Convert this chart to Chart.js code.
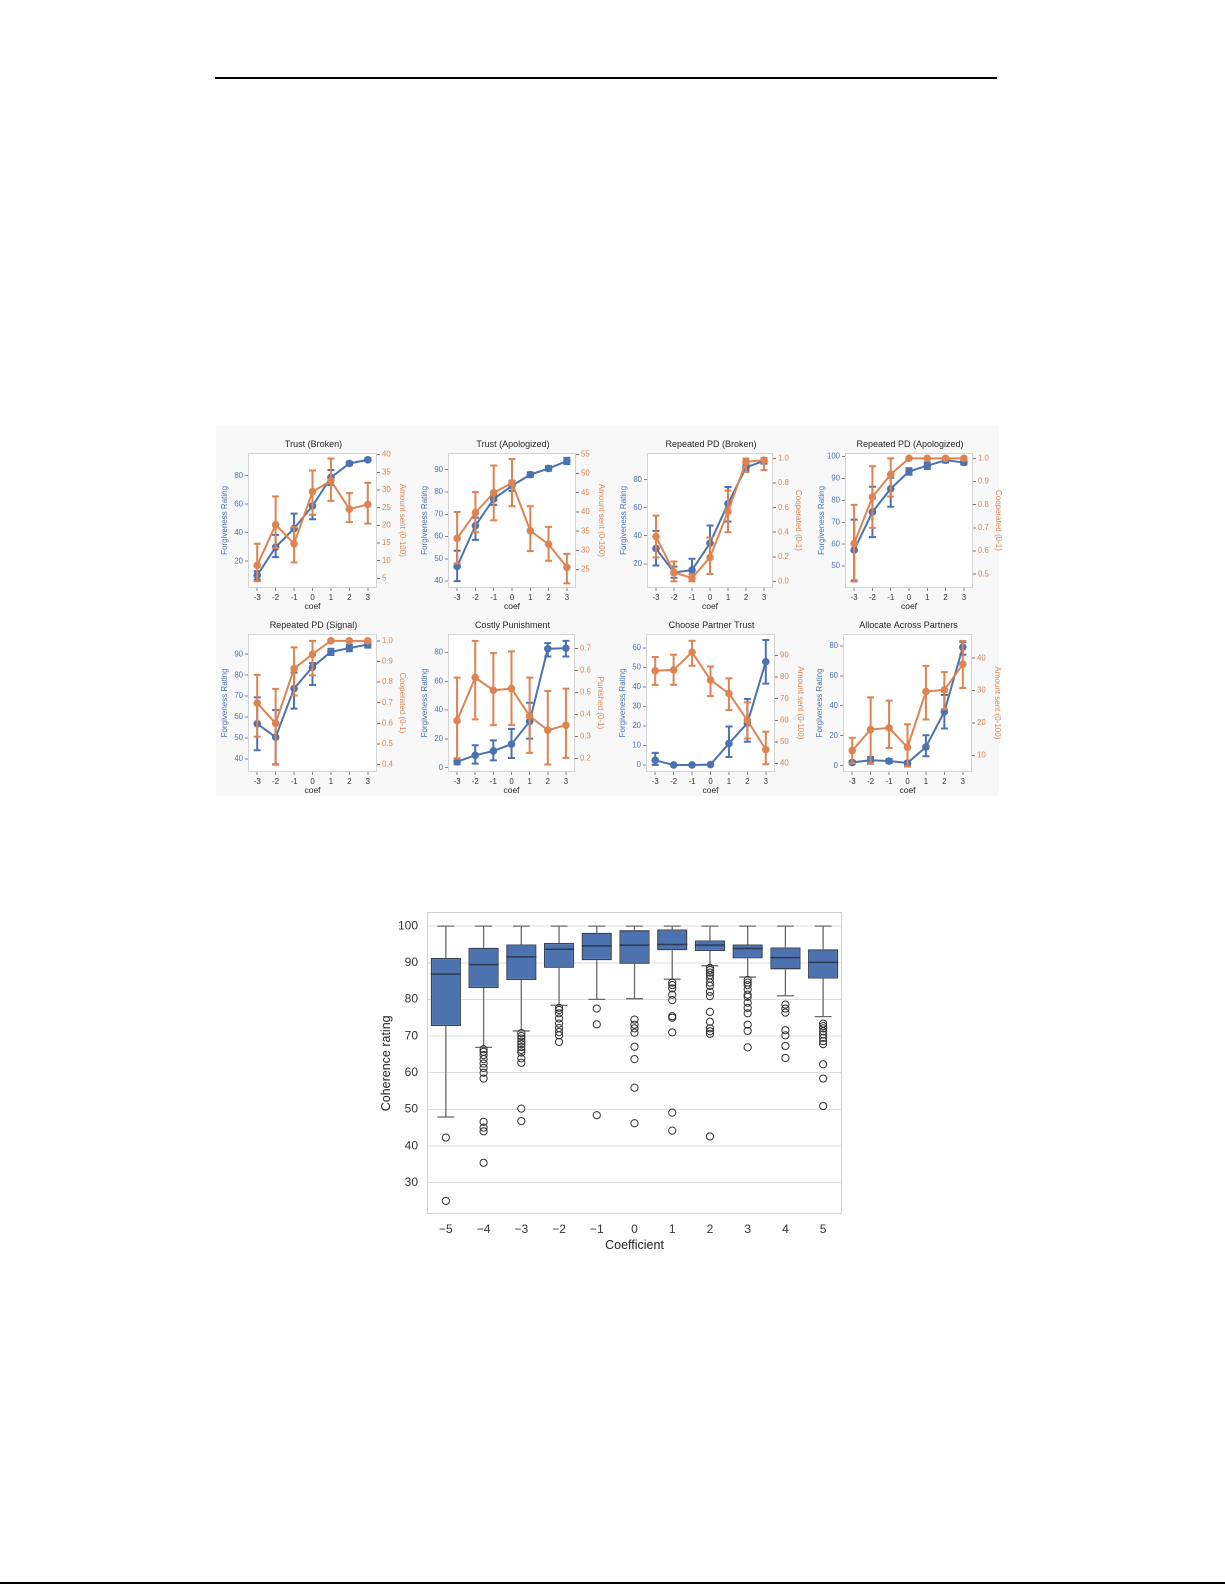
<!DOCTYPE html>
<html><head><meta charset="utf-8">
<script src="https://cdn.jsdelivr.net/npm/chart.js@4.4.1/dist/chart.umd.min.js"></script>
<style>
html,body{margin:0;padding:0;background:#fff;}
body{width:1225px;height:1585px;position:relative;overflow:hidden;font-family:'Liberation Sans',Arial,sans-serif;}
.abs{position:absolute;}
canvas{position:absolute;}
</style></head><body>
<div class="abs" style="left:215px;top:77px;width:782px;height:1.5px;background:#000"></div>
<div class="abs" style="left:0;top:1582px;width:1225px;height:2px;background:#000"></div>
<div class="abs" style="left:216px;top:426px;width:783px;height:370px;background:#f8f8f8"></div>
<script>
// ---------------- DATA ----------------
const coefLabels = ['-3','-2','-1','0','1','2','3'];
const panelTitles = ['Trust (Broken)','Trust (Apologized)','Repeated PD (Broken)','Repeated PD (Apologized)','Repeated PD (Signal)','Costly Punishment','Choose Partner Trust','Allocate Across Partners'];
const leftAxisTitle = 'Forgiveness Rating';
const rightAxisTitles = ['Amount sent (0-100)','Amount sent (0-100)','Cooperated (0-1)','Cooperated (0-1)','Cooperated (0-1)','Punished (0-1)','Amount sent (0-100)','Amount sent (0-100)'];

const forgivenessMean = [
  [10, 29.8, 42.9, 58.8, 78.8, 88.6, 91.2],
  [46.6, 64.9, 76.9, 82.8, 87.8, 90.6, 93.9],
  [30.9, 13.8, 15.5, 34.7, 62.9, 88.8, 93.5],
  [57.3, 74.7, 85.3, 93.2, 95.8, 98.3, 97.3],
  [56.8, 50.4, 73.6, 83.8, 91.1, 92.9, 94.6],
  [4.2, 8.6, 11.6, 16.3, 32.1, 82.6, 83.0],
  [2.4, 0, 0, 0.2, 11, 21.4, 52.9],
  [2.2, 3.6, 3.1, 1.8, 12.5, 36, 79.1]
];
const forgivenessLow = [
  [7, 22.8, 32.4, 49.4, 73.5, 87.5, 90.2],
  [40, 58.5, 74.2, 80.5, 86.8, 89.6, 92.5],
  [18.8, 10, 9.8, 24, 50.2, 86.5, 91.5],
  [43.4, 63.2, 77.1, 91.7, 94.3, 97.3, 96.3],
  [44.2, 37.5, 64, 75.3, 89.6, 91.4, 93.1],
  [2.3, 2.8, 5.1, 6.7, 20.2, 77.2, 77.2],
  [0, 0, 0, 0, 4.1, 11.9, 41.7],
  [1.2, 1.3, 1.8, 0.8, 6.3, 24.8, 74]
];
const forgivenessHigh = [
  [13, 38.4, 53.4, 68.2, 84, 89.7, 92.2],
  [53.6, 68.5, 78.7, 85, 88.8, 91.6, 95.3],
  [43.5, 18, 23.6, 47.3, 74.8, 91, 95.5],
  [71.2, 86.2, 90.3, 94.7, 97.3, 99.3, 98.3],
  [69.4, 63.3, 81.2, 85.8, 92.6, 94.4, 96.1],
  [6.5, 15.6, 19, 27, 45.1, 86.5, 88.1],
  [6.2, 0, 0, 0.4, 19.7, 33.8, 64],
  [3.2, 5.8, 4.5, 2.8, 20.3, 47.2, 82.5]
];
const behaviorMean = [
  [8.7, 20.2, 14.8, 29.5, 32.6, 24.6, 25.9],
  [33.1, 39.8, 45.0, 47.6, 35.1, 31.6, 25.6],
  [0.365, 0.073, 0.027, 0.195, 0.568, 0.973, 0.986],
  [0.632, 0.833, 0.931, 1, 1, 1, 1],
  [0.698, 0.6, 0.865, 0.935, 1, 1, 1],
  [0.372, 0.568, 0.51, 0.518, 0.393, 0.329, 0.352],
  [82.9, 83.3, 91.5, 78.6, 72.4, 60, 46.5],
  [11.5, 18, 18.5, 12.5, 29.7, 30.2, 38.1]
];
const behaviorLow = [
  [4.2, 13.6, 9.5, 23, 26.9, 20.9, 20.5],
  [26.6, 34.7, 37.8, 41.5, 29.8, 27.3, 21.4],
  [0.195, 0.0, 0.0, 0.06, 0.4, 0.89, 0.905],
  [0.468, 0.7, 0.835, 1, 1, 1, 1],
  [0.535, 0.4, 0.735, 0.833, 1, 1, 1],
  [0.2, 0.378, 0.352, 0.352, 0.226, 0.173, 0.203],
  [76.4, 76.4, 85.2, 71.2, 64.7, 51.6, 39.7],
  [7.6, 7.6, 12.3, 6.6, 21.1, 24.3, 30.8]
];
const behaviorHigh = [
  [14.8, 28.2, 19.5, 35.5, 38.9, 29.1, 32],
  [40, 45.2, 52.1, 53.8, 41.5, 36.1, 29.1],
  [0.535, 0.162, 0.06, 0.357, 0.738, 1.0, 1.0],
  [0.799, 0.966, 1.0, 1, 1, 1, 1],
  [0.835, 0.767, 0.968, 1.0, 1, 1, 1],
  [0.568, 0.735, 0.679, 0.687, 0.568, 0.507, 0.518],
  [89.3, 90.3, 96.8, 84.9, 79.4, 68.3, 54.7],
  [15.4, 27.9, 26.9, 19.6, 37.6, 35.7, 45.3]
];
const leftTicks = [[20,40,60,80],[40,50,60,70,80,90],[20,40,60,80],[50,60,70,80,90,100],[40,50,60,70,80,90],[0,20,40,60,80],[0,10,20,30,40,50,60],[0,20,40,60,80]];
const rightTicks = [[5,10,15,20,25,30,35,40],[25,30,35,40,45,50,55],[0,0.2,0.4,0.6,0.8,1.0],[0.5,0.6,0.7,0.8,0.9,1.0],[0.4,0.5,0.6,0.7,0.8,0.9,1.0],[0.2,0.3,0.4,0.5,0.6,0.7],[40,50,60,70,80,90],[10,20,30,40]];
const rightDecimals = [0,0,1,1,1,1,0,0];
const leftRange = [[1.1,96.1],[36.9,97.6],[2.7,99.2],[40,101.7],[33.8,99.7],[-3,93],[-3.6,67.2],[-4.2,88]];
const rightRange = [[2.3,40.5],[20.2,55.4],[-0.054,1.046],[0.44,1.024],[0.364,1.034],[0.139,0.767],[36.1,100],[4.9,47.5]];

const boxCategories = ['\u22125','\u22124','\u22123','\u22122','\u22121','0','1','2','3','4','5'];
const boxQ1 = [72.7, 83.1, 85.3, 88.6, 90.7, 89.7, 93.4, 93.2, 91.2, 88.2, 85.7];
const boxMedian = [86.9, 89.5, 91.6, 93.7, 94.6, 94.8, 95.0, 94.8, 93.9, 91.4, 90.1];
const boxQ3 = [91.35, 94.1, 95.0, 95.4, 98.2, 98.9, 99.1, 96.1, 95.0, 94.2, 93.7];
const whiskerLow = [47.9, 66.9, 71.4, 78.4, 80.0, 80.2, 85.5, 89.2, 86.1, 81.0, 75.3];
const whiskerHigh = [100, 100, 100, 100, 100, 100, 100, 100, 100, 100, 100];
const outliers = [
  [42.3, 25.0],
  [66.4, 65.7, 64.8, 63.7, 62.5, 61.3, 60.0, 58.4, 46.6, 45.0, 44.0, 35.4],
  [70.8, 70.0, 69.3, 68.5, 67.8, 67.0, 66.2, 65.5, 63.9, 62.7, 50.2, 46.8],
  [77.7, 77.1, 76.2, 74.8, 73.4, 72.2, 71.1, 70.2, 68.4],
  [77.5, 73.2, 48.4],
  [74.5, 73.1, 72.1, 70.9, 67.1, 63.7, 55.9, 46.2],
  [84.6, 83.9, 83.0, 81.3, 79.8, 75.4, 75.0, 71.0, 49.1, 44.2],
  [88.6, 88.0, 87.3, 86.6, 85.7, 84.6, 83.7, 82.1, 80.9, 76.6, 73.9, 72.1, 71.3, 70.6, 42.6],
  [85.3, 84.6, 83.9, 82.7, 81.3, 80.7, 79.1, 77.7, 76.2, 73.1, 71.4, 66.9],
  [78.6, 77.5, 76.4, 71.6, 70.2, 67.3, 64.0],
  [73.4, 72.7, 72.1, 71.3, 70.4, 69.5, 68.6, 67.8, 62.3, 58.4, 50.9]
];
const boxTicks = [30,40,50,60,70,80,90,100];
const boxRange = [21.3, 103.8];

// ---------------- LAYOUT / STYLE ----------------
const panelBoxes = [
  [248,453,377,588],[448,453,576,588],[647,453,773,588],[845,453,973,588],
  [248,634,377,772],[448,634,575,772],[646,634,775,772],[843,634,972,772]
];
const BLUE = '#4c72b0', ORANGE = '#dd8452';
Chart.defaults.font.family = "'Liberation Sans', Arial, sans-serif";
Chart.defaults.animation = false;

const framePlugin = {
  id: 'frame',
  beforeDraw(chart) {
    const a = chart.chartArea, c = chart.ctx;
    c.save(); c.fillStyle = '#ffffff'; c.fillRect(a.left, a.top, a.right - a.left, a.bottom - a.top); c.restore();
  },
  beforeDatasetsDraw(chart) {
    const a = chart.chartArea, c = chart.ctx;
    c.save(); c.strokeStyle = chart.options.frameColor || '#d4d4d4'; c.lineWidth = 1;
    c.strokeRect(Math.round(a.left) + 0.5, Math.round(a.top) + 0.5, Math.round(a.right - a.left) - 1, Math.round(a.bottom - a.top) - 1);
    c.restore();
  }
};
const errorBarPlugin = {
  id: 'errbars',
  beforeDatasetDraw(chart, args) {
    const ds = chart.data.datasets[args.index];
    if (!ds.errLow) return;
    const ys = chart.scales[ds.yAxisID];
    const c = chart.ctx;
    c.save(); c.strokeStyle = ds.borderColor; c.lineWidth = 2; c.lineCap = 'butt';
    args.meta.data.forEach((pt, i) => {
      const lo = ds.errLow[i], hi = ds.errHigh[i];
      if (Math.abs(hi - lo) < 1e-9) return;
      const x = pt.x, y1 = ys.getPixelForValue(lo), y2 = ys.getPixelForValue(hi);
      c.beginPath();
      c.moveTo(x, y1); c.lineTo(x, y2);
      c.moveTo(x - 3.5, y1); c.lineTo(x + 3.5, y1);
      c.moveTo(x - 3.5, y2); c.lineTo(x + 3.5, y2);
      c.stroke();
    });
    c.restore();
  }
};

function makePanel(i) {
  const [L, T, R, B] = panelBoxes[i];
  const LW = 28, RW = 30, TH = 16.8, XH = 24;
  const cv = document.createElement('canvas');
  const w = Math.round(LW + (R - L) + RW), h = Math.round(TH + (B - T) + XH);
  cv.width = w; cv.height = h;
  cv.style.left = (L - LW) + 'px'; cv.style.top = Math.round(T - TH) + 'px';
  cv.style.width = w + 'px'; cv.style.height = h + 'px';
  document.body.appendChild(cv);
  const tickFont = {size: 7.8};
  new Chart(cv, {
    type: 'line',
    data: {
      labels: coefLabels,
      datasets: [
        {label: 'Forgiveness', data: forgivenessMean[i], errLow: forgivenessLow[i], errHigh: forgivenessHigh[i], yAxisID: 'yL',
         borderColor: BLUE, backgroundColor: BLUE, borderWidth: 2, pointRadius: 3.8, pointBorderWidth: 0, pointBackgroundColor: BLUE, tension: 0, order: 2},
        {label: 'Behavior', data: behaviorMean[i], errLow: behaviorLow[i], errHigh: behaviorHigh[i], yAxisID: 'yR',
         borderColor: ORANGE, backgroundColor: ORANGE, borderWidth: 2, pointRadius: 3.8, pointBorderWidth: 0, pointBackgroundColor: ORANGE, tension: 0, order: 1}
      ]
    },
    options: {
      responsive: false, devicePixelRatio: 2,
      layout: {padding: 0},
      plugins: {
        legend: {display: false}, tooltip: {enabled: false},
        title: {display: true, text: panelTitles[i], color: '#262626', font: {size: 9, weight: 'normal'}, padding: {top: 3, bottom: 3}}
      },
      scales: {
        x: {type: 'category', offset: true,
            grid: {display: true, drawOnChartArea: false, drawTicks: true, tickLength: 3, color: '#666', lineWidth: 0.8},
            border: {display: false},
            ticks: {color: '#333', font: tickFont, padding: 2, maxRotation: 0, autoSkip: false},
            title: {display: true, text: 'coef', color: '#262626', font: {size: 8.5}, padding: 0},
            afterFit(s) { s.height = XH; }},
        yL: {type: 'linear', position: 'left', min: leftRange[i][0], max: leftRange[i][1],
             afterBuildTicks(s) { s.ticks = leftTicks[i].map(v => ({value: v})); },
             grid: {display: true, drawOnChartArea: false, drawTicks: true, tickLength: 3, color: '#666', lineWidth: 0.8},
             border: {display: false},
             ticks: {color: BLUE, font: tickFont, padding: 2, callback: v => String(Math.round(v))},
             title: {display: true, text: leftAxisTitle, color: BLUE, font: {size: 8}, padding: 0},
             afterFit(s) { s.width = LW; }},
        yR: {type: 'linear', position: 'right', min: rightRange[i][0], max: rightRange[i][1],
             afterBuildTicks(s) { s.ticks = rightTicks[i].map(v => ({value: v})); },
             grid: {display: true, drawOnChartArea: false, drawTicks: true, tickLength: 3, color: '#555', lineWidth: 0.8},
             border: {display: false},
             ticks: {color: ORANGE, font: tickFont, padding: 2, callback: v => Number(v).toFixed(rightDecimals[i])},
             title: {display: true, text: rightAxisTitles[i], color: ORANGE, font: {size: 8}, padding: 0},
             afterFit(s) { s.width = RW; }}
      }
    },
    plugins: [framePlugin, errorBarPlugin]
  });
}
for (let i = 0; i < 8; i++) makePanel(i);

// ---------------- BOX PLOT ----------------
(function () {
  const L = 427, T = 912, R = 842, B = 1214;
  const LW = 48, TP = 16, RP = 8, XH = 38.5;
  const cv = document.createElement('canvas');
  const w = Math.round(LW + (R - L) + RP), h = Math.round(TP + (B - T) + XH);
  cv.width = w; cv.height = h;
  cv.style.left = (L - LW) + 'px'; cv.style.top = (T - TP) + 'px';
  cv.style.width = w + 'px'; cv.style.height = h + 'px';
  document.body.appendChild(cv);

  const outlierPoints = [];
  outliers.forEach((arr, i) => arr.forEach(v => outlierPoints.push({x: boxCategories[i], y: v})));

  const whiskerPlugin = {
    id: 'whiskers',
    beforeDatasetsDraw(chart) {
      const xs = chart.scales.x, ys = chart.scales.y, c = chart.ctx;
      const bars = chart.getDatasetMeta(0).data;
      c.save(); c.strokeStyle = '#6a6a6a'; c.lineWidth = 1.3;
      boxCategories.forEach((cat, i) => {
        const x = xs.getPixelForValue(i);
        const cap = bars[i] ? bars[i].width * 0.28 : 8;
        const yl = ys.getPixelForValue(whiskerLow[i]), yh = ys.getPixelForValue(whiskerHigh[i]);
        const y1 = ys.getPixelForValue(boxQ1[i]), y3 = ys.getPixelForValue(boxQ3[i]);
        c.beginPath();
        c.moveTo(x, yh); c.lineTo(x, y3);
        c.moveTo(x, y1); c.lineTo(x, yl);
        c.moveTo(x - cap, yh); c.lineTo(x + cap, yh);
        c.moveTo(x - cap, yl); c.lineTo(x + cap, yl);
        c.stroke();
      });
      c.restore();
    },
    afterDatasetsDraw(chart) {
      const ys = chart.scales.y, c = chart.ctx;
      const bars = chart.getDatasetMeta(0).data;
      c.save(); c.strokeStyle = '#2e3a52'; c.lineWidth = 1.5;
      boxMedian.forEach((m, i) => {
        const el = bars[i]; const y = ys.getPixelForValue(m);
        c.beginPath(); c.moveTo(el.x - el.width / 2, y); c.lineTo(el.x + el.width / 2, y); c.stroke();
      });
      c.restore();
    }
  };

  new Chart(cv, {
    type: 'bar',
    data: {
      labels: boxCategories,
      datasets: [
        {type: 'bar', data: boxQ1.map((q, i) => [q, boxQ3[i]]), backgroundColor: BLUE, borderColor: '#3a4254', borderWidth: 1.3,
         borderSkipped: false, barPercentage: 0.8, categoryPercentage: 1.0, order: 2},
        {type: 'line', data: outlierPoints, showLine: false, pointRadius: 3.6, pointBorderWidth: 1,
         pointBackgroundColor: 'rgba(255,255,255,0)', pointBorderColor: '#333333', order: 1}
      ]
    },
    options: {
      responsive: false, devicePixelRatio: 2,
      frameColor: '#d0d0d0',
      layout: {padding: {top: TP, right: RP, left: 0, bottom: 0}},
      plugins: {legend: {display: false}, tooltip: {enabled: false}},
      scales: {
        x: {type: 'category', offset: true,
            grid: {display: false, drawTicks: false},
            border: {display: false},
            ticks: {color: '#333', font: {size: 12}, padding: 8, maxRotation: 0, autoSkip: false},
            title: {display: true, text: 'Coefficient', color: '#222', font: {size: 12.5}, padding: 0},
            afterFit(s) { s.height = XH; }},
        y: {type: 'linear', min: boxRange[0], max: boxRange[1],
            afterBuildTicks(s) { s.ticks = boxTicks.map(v => ({value: v})); },
            grid: {display: true, drawTicks: false, color: '#dddddd', lineWidth: 1},
            border: {display: false},
            ticks: {color: '#333', font: {size: 12}, padding: 9, callback: v => String(v)},
            title: {display: true, text: 'Coherence rating', color: '#222', font: {size: 12.5}, padding: 0},
            afterFit(s) { s.width = LW; }}
      }
    },
    plugins: [framePlugin, whiskerPlugin]
  });
})();
</script>
</body></html>
